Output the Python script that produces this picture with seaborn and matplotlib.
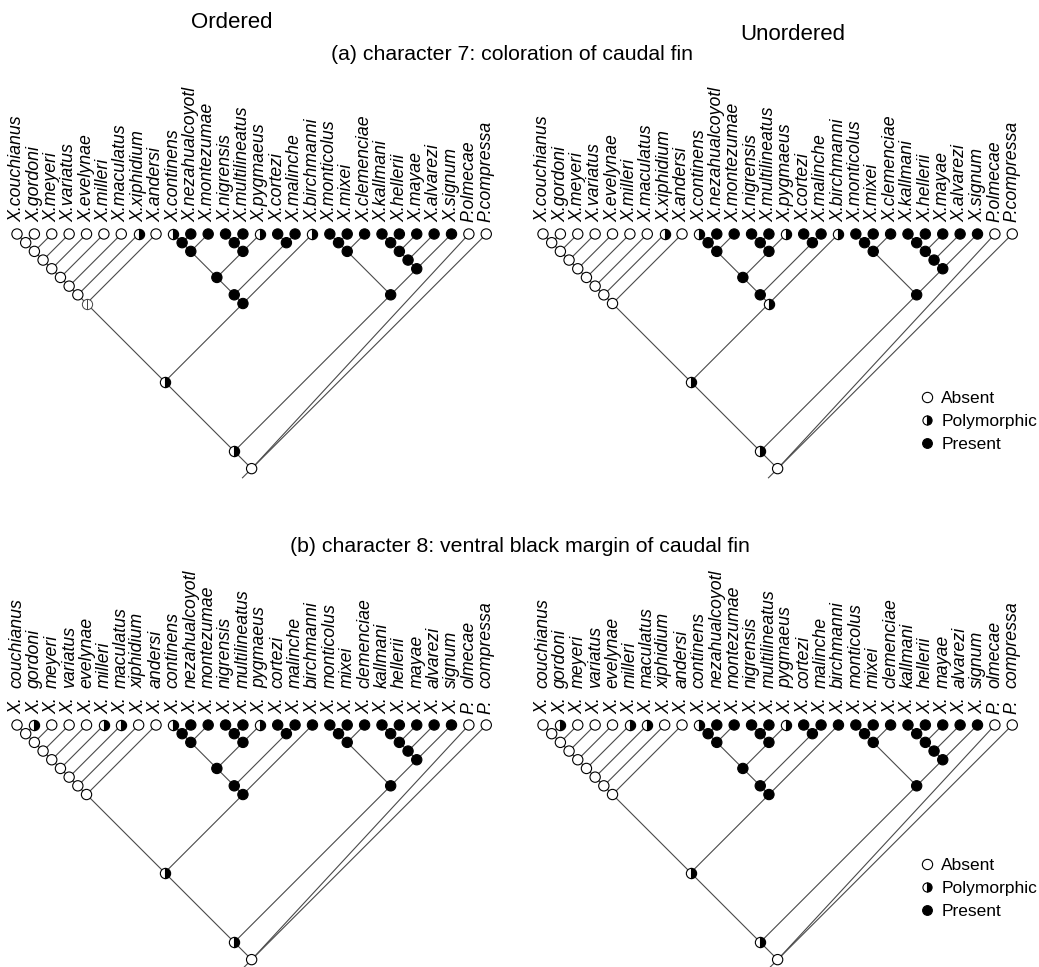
import numpy as np
import pandas as pd
import seaborn as sns
import matplotlib.pyplot as plt
from matplotlib.collections import LineCollection
from matplotlib.lines import Line2D

# taxa, in the order they sit along the top of the trees
genus = ['X'] * 26 + ['P', 'P']
species = ['couchianus', 'gordoni', 'meyeri', 'variatus', 'evelynae', 'milleri', 'maculatus',
           'xiphidium', 'andersi', 'continens', 'nezahualcoyotl', 'montezumae', 'nigrensis',
           'multilineatus', 'pygmaeus', 'cortezi', 'malinche', 'birchmanni', 'monticolus', 'mixei',
           'clemenciae', 'kallmani', 'hellerii', 'mayae', 'alvarezi', 'signum', 'olmecae', 'compressa']

# topology
platy = "((((((((couchianus,gordoni),meyeri),variatus),evelynae),milleri),maculatus),xiphidium),andersi)"
north = "(((((continens,nezahualcoyotl),montezumae),((nigrensis,multilineatus),pygmaeus)),(cortezi,malinche)),birchmanni)"
south = "(((monticolus,mixei),clemenciae),((((kallmani,hellerii),mayae),alvarezi),signum))"
tree = "(((" + platy + "," + north + ")," + south + "),olmecae,compressa)"

# states: 0 absent, 1 polymorphic, 2 present, 3 equivocal
tips_ch7 = [0, 0, 0, 0, 0, 0, 0, 1, 0,
            1, 2, 2, 2, 2, 1, 2, 2, 1,
            2, 2, 2, 2, 2, 2, 2, 2,
            0, 0]
tips_ch8 = [0, 1, 0, 0, 0, 1, 1, 0, 0,
            1, 2, 2, 2, 2, 1, 2, 2, 2,
            2, 2, 2, 2, 2, 2, 2, 2,
            0, 0]
# internal nodes, postorder: platyfish ladder (8), northern swordtails (8),
# platy+north, southern swordtails (7), Xiphophorus, root
nodes_ch7_ord = [0, 0, 0, 0, 0, 0, 0, 3,
                 2, 2, 2, 2, 2, 2, 2, 2,
                 1,
                 2, 2, 2, 2, 2, 2, 2,
                 1, 0]
nodes_ch7_unord = [0, 0, 0, 0, 0, 0, 0, 0,
                   2, 2, 2, 2, 2, 2, 2, 1,
                   1,
                   2, 2, 2, 2, 2, 2, 2,
                   1, 0]
nodes_ch8_ord = [0, 0, 0, 0, 0, 0, 0, 0,
                 2, 2, 2, 2, 2, 2, 2, 2,
                 1,
                 2, 2, 2, 2, 2, 2, 2,
                 1, 0]
nodes_ch8_unord = list(nodes_ch8_ord)

legend_labels = ['Absent', 'Polymorphic', 'Present']


def parse(s):
    pos = 0

    def node():
        nonlocal pos
        if s[pos] == '(':
            pos += 1
            kids = [node()]
            while s[pos] == ',':
                pos += 1
                kids.append(node())
            pos += 1
            return kids
        start = pos
        while pos < len(s) and s[pos] not in ',()':
            pos += 1
        return s[start:pos]
    return node()


def layout(t, edges, internal):
    # slanted cladogram: node sits under the middle of its leaves
    if isinstance(t, str):
        i = species.index(t)
        return i, i, float(i), 0.0
    kids = [layout(k, edges, internal) for k in t]
    lo = min(k[0] for k in kids)
    hi = max(k[1] for k in kids)
    x, y = (lo + hi) / 2, (hi - lo) / 2
    for k in kids:
        edges.append([(k[2], k[3]), (x, y)])
    internal.append((x, y))
    return lo, hi, x, y


edges, internal = [], []
layout(parse(tree), edges, internal)
root_x, root_y = internal[-1]
edges.append([(root_x, root_y), (root_x - 0.55, root_y + 0.55)])

sns.set_theme(style="white")
plt.rcParams['font.family'] = ['Liberation Sans', 'DejaVu Sans']
plt.rcParams['text.color'] = 'black'

W, H = 1039, 967
u = 17.38
fig = plt.figure(figsize=(W / 100, H / 100), dpi=100)


def make_ax(x0, y0):
    xlo, xhi, ytop, ybot = -1, 28, -1.5, 14.5
    left = x0 + xlo * u
    top = y0 + ytop * u
    w = (xhi - xlo) * u
    h = (ybot - ytop) * u
    ax = fig.add_axes([left / W, 1 - (top + h) / H, w / W, h / H])
    ax.set_axis_off()
    return ax, (xlo, xhi, ybot, ytop)


def draw(ax, lims, tips, nodes, split_names):
    df = pd.DataFrame({
        'x': [float(i) for i in range(len(species))] + [p[0] for p in internal],
        'y': [0.0] * len(species) + [p[1] for p in internal],
        'state': tips + nodes,
    })
    ax.add_collection(LineCollection(edges, colors='#4a4a4a', linewidths=0.8, zorder=1))
    full = df[df['state'].isin([0, 2])]
    sns.scatterplot(data=full, x='x', y='y', hue='state', palette={0: 'white', 2: 'black'},
                    edgecolor='black', linewidth=0.8, s=55, legend=False, ax=ax, zorder=3)
    half = df[df['state'] == 1]
    ax.plot(half['x'], half['y'], 'o', fillstyle='right', ms=7.4, mfc='black', mfcalt='white',
            mec='black', mew=0.8, zorder=3)
    eq = df[df['state'] == 3]
    ax.plot(eq['x'], eq['y'], 'o', fillstyle='right', ms=7.4, mfc='white', mfcalt='white',
            mec='#444444', mew=0.7, zorder=3)
    for i, (g, sp) in enumerate(zip(genus, species)):
        if split_names:
            ax.annotate(g + '.', (i, 0), xytext=(0, 8), textcoords='offset points', rotation=90,
                        ha='center', va='bottom', fontsize=12.8, style='italic', color='black')
            ax.annotate(sp, (i, 0), xytext=(0, 27), textcoords='offset points', rotation=90,
                        ha='center', va='bottom', fontsize=12.8, style='italic', color='black')
        else:
            ax.annotate(g + '.' + sp, (i, 0), xytext=(0, 8.5), textcoords='offset points', rotation=90,
                        ha='center', va='bottom', fontsize=12.8, style='italic', color='black')
    ax.set_xlim(lims[0], lims[1])
    ax.set_ylim(lims[2], lims[3])


def add_legend(ax, top_px):
    handles = [
        Line2D([], [], ls='none', marker='o', ms=7.4, mfc='white', mec='black', mew=0.8),
        Line2D([], [], ls='none', marker='o', ms=6.6, fillstyle='right', mfc='black',
               mfcalt='white', mec='black', mew=0.8),
        Line2D([], [], ls='none', marker='o', ms=7.0, mfc='black', mec='black', mew=0.8),
    ]
    leg = ax.legend(handles, legend_labels, loc='upper left', bbox_to_anchor=(918 / W, 1 - top_px / H),
                    bbox_transform=fig.transFigure, frameon=False, fontsize=12.5, borderpad=0,
                    handlelength=1.0, handletextpad=0.35, labelspacing=0.45, borderaxespad=0)
    for t in leg.get_texts():
        t.set_color('black')


ax1, lim = make_ax(17, 234)
draw(ax1, lim, tips_ch7, nodes_ch7_ord, False)
ax2, lim = make_ax(543, 234)
draw(ax2, lim, tips_ch7, nodes_ch7_unord, False)
add_legend(ax2, 391)
ax3, lim = make_ax(17, 725)
draw(ax3, lim, tips_ch8, nodes_ch8_ord, True)
ax4, lim = make_ax(543, 725)
draw(ax4, lim, tips_ch8, nodes_ch8_unord, True)
add_legend(ax4, 858)

fig.text(232 / W, 1 - 22 / H, 'Ordered', ha='center', va='center', fontsize=16, color='black')
fig.text(793 / W, 1 - 35 / H, 'Unordered', ha='center', va='center', fontsize=16, color='black')
fig.text(512 / W, 1 - 54 / H, '(a) character 7: coloration of caudal fin', ha='center', va='center',
         fontsize=15.3, color='black')
fig.text(520 / W, 1 - 547 / H, '(b) character 8: ventral black margin of caudal fin', ha='center',
         va='center', fontsize=15.3, color='black')

fig.savefig('out.png', dpi=100)
